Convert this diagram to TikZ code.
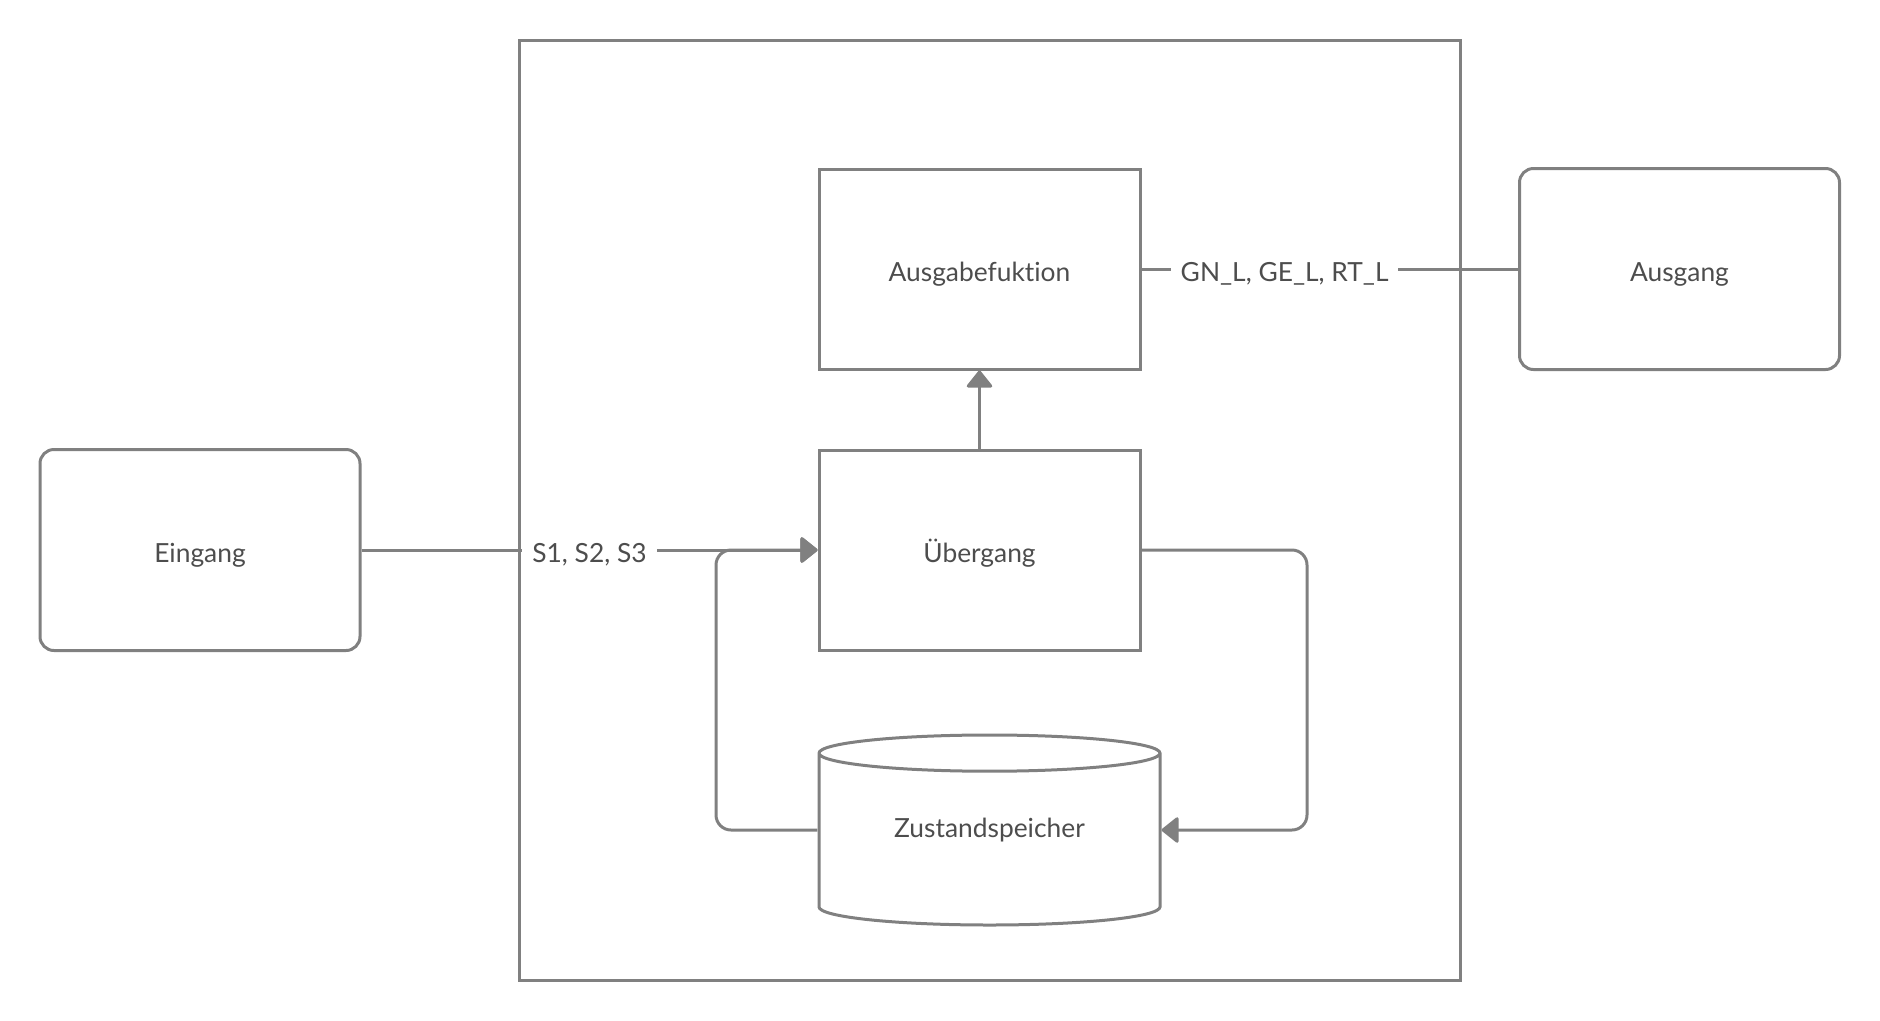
\documentclass[tikz,border=0pt]{standalone}
\usepackage{fontspec}
\setmainfont[Ligatures=NoCommon]{Lato}
\usepackage{tikz}
\usetikzlibrary{shapes.geometric, arrows.meta, positioning}
\definecolor{linecolor}{RGB}{128,128,128}
\definecolor{textcolor}{RGB}{77,77,77}

\begin{document}
\begin{tikzpicture}[
    font=\fontsize{15}{18}\selectfont,
    text=textcolor,
    frame/.style={draw=linecolor, line width=0.06cm, minimum width=18.82cm, minimum height=18.8cm, inner sep=0pt},
    block/.style={draw=linecolor, line width=0.06cm, minimum width=6.42cm, minimum height=4cm, inner sep=0pt, text height=1.4em, text depth=0pt},
    io/.style={draw=linecolor, line width=0.06cm, minimum width=6.4cm, minimum height=4.02cm, rounded corners=0.28cm, inner sep=0pt, text height=1.4em, text depth=0pt},
    store/.style={draw=linecolor, line width=0.06cm, cylinder, shape border rotate=90, aspect=0.19, minimum width=6.82cm, minimum height=3.8cm, inner sep=0pt, text height=1.4em, text depth=0.6cm},
    flow/.style={-{Triangle[length=0.36cm, width=0.56cm, round]}, line width=0.06cm, linecolor},
    plain/.style={line width=0.06cm, linecolor},
    label/.style={fill=white, text=textcolor, inner xsep=0.2cm, inner ysep=0pt, text height=1.4em, text depth=0pt}
]
    \useasboundingbox (0,0) rectangle (37.6,-20.4);

    % Outer frame
    \node[frame] (fsm) at (19.79,-10.2) {};

    % Inner blocks
    \node[block] (ausgabe) at (19.59,-5.38) {Ausgabefuktion};
    \node[block] (uebergang) at (19.59,-11.0) {Übergang};
    \node[store, anchor=shape center] (speicher) at (19.79,-16.6) {Zustandspeicher};

    % Input and output (outside)
    \node[io] (eingang) at (4.0,-11.0) {Eingang};
    \node[io] (ausgang) at (33.59,-5.38) {Ausgang};

    % Loop corners
    \coordinate (loopR) at (26.14,-11.0);
    \coordinate (loopL) at (14.32,-11.0);
    \coordinate (memR) at (speicher.shape center -| speicher.east);
    \coordinate (memL) at (speicher.shape center -| speicher.west);

    % Flows
    \draw[flow] (eingang) -- node[label] {S1, S2, S3} (uebergang);
    \draw[flow] (uebergang) -- (ausgabe);
    \draw[plain] (ausgabe) -- node[label, pos=0.38] {GN\_L, GE\_L, RT\_L} (ausgang);

    % Feedback loop via state memory
    \draw[flow, rounded corners=0.3cm] (uebergang.east) -- (loopR) |- (memR);
    \draw[flow, rounded corners=0.3cm] (memL) -| (loopL) -- (uebergang.west);
\end{tikzpicture}
\end{document}
